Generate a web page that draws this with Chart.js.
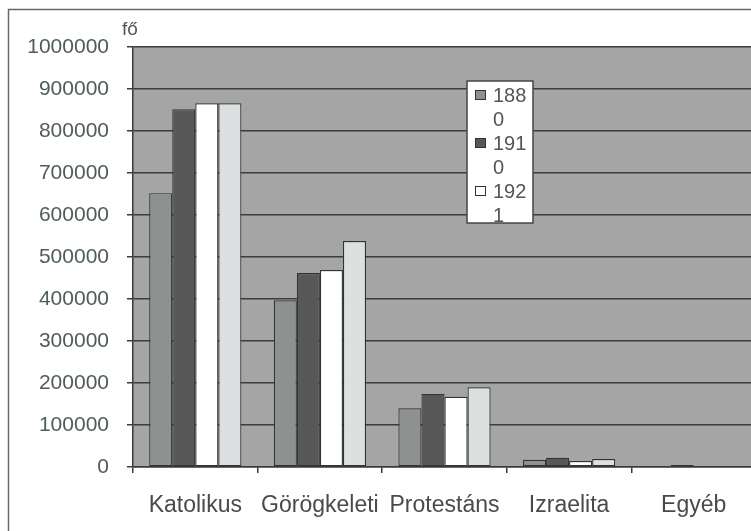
<!DOCTYPE html>
<html>
<head>
<meta charset="utf-8">
<script src="https://cdn.jsdelivr.net/npm/chart.js@4.4.1/dist/chart.umd.min.js"></script>
<style>
  html, body { margin: 0; padding: 0; background: #fff; overflow: hidden; }
  #wrap { width: 758px; height: 531px; }
</style>
</head>
<body>
<div id="wrap"><canvas id="vallasChart" width="758" height="531"></canvas></div>
<script>
// adatok
const categories = ['Katolikus', 'Görögkeleti', 'Protestáns', 'Izraelita', 'Egyéb'];
const years = ['1880', '1910', '1921', '1930'];
const v1880 = [652000, 397000, 140000, 17000, 0];
const v1910 = [852000, 462000, 174000, 22000, 5000];
const v1921 = [866000, 469000, 167000, 14000, 0];
const v1930 = [866000, 538000, 190000, 19000, 0];
const yTicks = [0, 100000, 200000, 300000, 400000, 500000, 600000, 700000, 800000, 900000, 1000000];

const barColors = ['#8d9290', '#585858', '#ffffff', '#dde0e0'];

// háttér, keret, "fő" felirat
const frame = {
    id: 'frame',
    beforeDraw: function (chart) {
        const ctx = chart.ctx;
        const a = chart.chartArea;
        ctx.save();
        ctx.fillStyle = '#a5a5a5';
        ctx.fillRect(a.left, a.top, a.right - a.left, a.bottom - a.top);
        ctx.strokeStyle = '#5f6b68';
        ctx.lineWidth = 1.5;
        ctx.beginPath();
        ctx.moveTo(8.5, 531);
        ctx.lineTo(8.5, 9.5);
        ctx.lineTo(758, 9.5);
        ctx.stroke();
        ctx.fillStyle = '#555';
        ctx.font = '19px "Liberation Sans", Arial, sans-serif';
        ctx.textBaseline = 'alphabetic';
        ctx.fillText('fő', 122, 35);
        ctx.restore();
    }
};

// jelmagyarázat a rajzterületen belül (Excel-szerű tördeléssel)
const boxLegend = {
    id: 'boxLegend',
    afterDraw: function (chart) {
        const ctx = chart.ctx;
        const x = 467, y = 81, w = 66, h = 142;
        const lineH = 24;
        ctx.save();
        ctx.fillStyle = '#fff';
        ctx.fillRect(x, y, w, h);
        ctx.strokeStyle = '#444';
        ctx.lineWidth = 1.5;
        ctx.strokeRect(x, y, w, h);
        ctx.font = '20px "Liberation Sans", Arial, sans-serif';
        ctx.textBaseline = 'middle';
        let cy = y + 14;
        chart.data.datasets.forEach(function (ds) {
            // sortörés, ha nem fér el
            const lines = [];
            let cur = '';
            for (const ch of ds.label) {
                if (ctx.measureText(cur + ch).width > 36 && cur) {
                    lines.push(cur);
                    cur = ch;
                } else {
                    cur += ch;
                }
            }
            lines.push(cur);
            if (cy + (lines.length - 1) * lineH > y + h) return;
            ctx.fillStyle = ds.backgroundColor;
            ctx.fillRect(x + 8.5, cy - 4.5, 10, 9);
            ctx.strokeStyle = '#333';
            ctx.lineWidth = 1;
            ctx.strokeRect(x + 8.5, cy - 4.5, 10, 9);
            ctx.fillStyle = '#555';
            lines.forEach(function (t, i) {
                ctx.fillText(t, x + 26, cy + 1 + i * lineH);
            });
            cy += lines.length * lineH;
        });
        ctx.restore();
    }
};

const ctx = document.getElementById('vallasChart').getContext('2d');
const chartInstance = new Chart(ctx, {
    type: 'bar',
    data: {
        labels: categories,
        datasets: [v1880, v1910, v1921, v1930].map(function (vals, i) {
            return {
                label: years[i],
                data: vals,
                backgroundColor: barColors[i],
                borderColor: '#333',
                borderWidth: 1.2,
                borderSkipped: false,
                categoryPercentage: 0.74,
                barPercentage: 1.0
            };
        })
    },
    options: {
        responsive: false,
        animation: false,
        layout: { padding: { top: 47, right: 2, left: 0, bottom: 0 } },
        plugins: {
            legend: { display: false },
            tooltip: { enabled: false }
        },
        scales: {
            x: {
                grid: { drawOnChartArea: false, drawTicks: true, tickLength: 6, offset: true, color: '#3a3a3a', lineWidth: 1.5 },
                border: { color: '#3a3a3a', width: 1.5 },
                ticks: {
                    color: '#4a4a4a',
                    padding: 19,
                    maxRotation: 0,
                    font: { family: '"Liberation Sans", Arial, sans-serif', size: 23 }
                },
                afterFit: function (scale) { scale.height = 64; }
            },
            y: {
                min: 0,
                max: 1000000,
                afterBuildTicks: function (scale) {
                    scale.ticks = yTicks.map(function (v) { return { value: v }; });
                },
                grid: { color: '#3c3c3c', lineWidth: 1.5, tickLength: 6 },
                border: { color: '#3a3a3a', width: 1.5 },
                ticks: {
                    color: '#4f5c58',
                    padding: 18,
                    font: { family: '"Liberation Sans", Arial, sans-serif', size: 21 },
                    callback: function (value) { return String(value); }
                },
                afterFit: function (scale) { scale.width = 133; }
            }
        }
    },
    plugins: [frame, boxLegend]
});
</script>
</body>
</html>
